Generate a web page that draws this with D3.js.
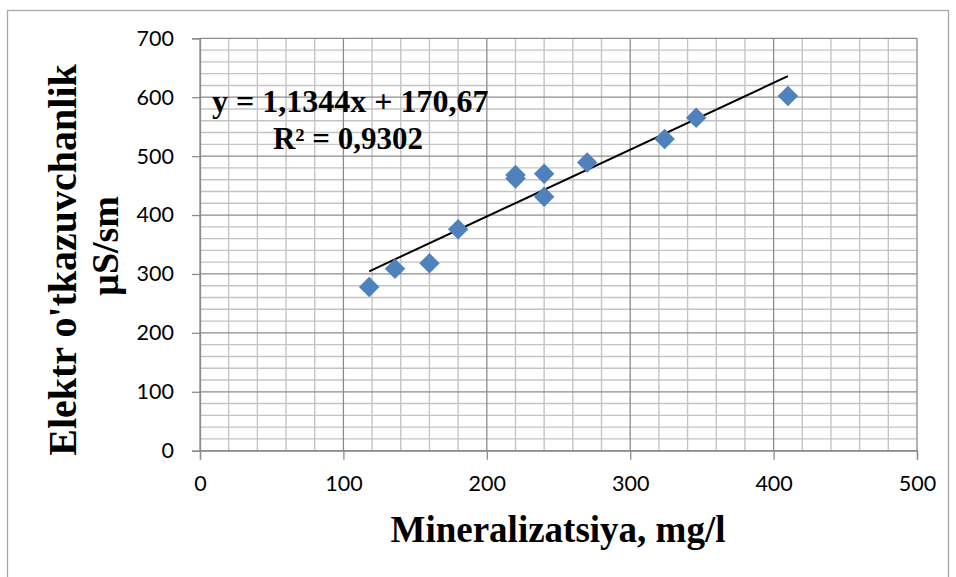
<!DOCTYPE html>
<html>
<head>
<meta charset="utf-8">
<script src="https://cdn.jsdelivr.net/npm/d3@7"></script>
<style>
  html, body { margin: 0; padding: 0; background: #fff; }
  svg { display: block; }
</style>
</head>
<body>
<svg id="chart" width="956" height="577"></svg>
<script>
// ---- data ----
const mineralization = [118, 136, 160, 180, 220, 220, 240, 240, 270, 324, 346, 410];
const conductivity   = [278, 309, 318, 376, 462, 468, 470, 431, 489, 529, 565, 602];
const xTicks = [0, 100, 200, 300, 400, 500];
const yTicks = [0, 100, 200, 300, 400, 500, 600, 700];
const trendSlope = 1.1344;
const trendIntercept = 170.67;
const equationText = "y = 1,1344x + 170,67";
const r2Text = "R² = 0,9302";
const xTitle = "Mineralizatsiya, mg/l";
const yTitleLines = ["Elektr o'tkazuvchanlik", "µS/sm"];

(function () {
// ---- layout ----
const svg = d3.select("#chart");
const pl = 200, pr = 917, pt = 38.3, pb = 450.7;
const x = d3.scaleLinear().domain([0, 500]).range([pl, pr]);
const y = d3.scaleLinear().domain([0, 700]).range([pb, pt]);

// outer border
svg.append("rect").attr("x", 7.5).attr("y", 10.5).attr("width", 941).attr("height", 600)
  .attr("fill", "none").attr("stroke", "#a6a6a6").attr("stroke-width", 1.3);

// minor gridlines
const minor = d3.range(0, 501, 20).filter(v => v % 100 !== 0);
const minorY = d3.range(0, 701, 20).filter(v => v % 100 !== 0);
const g = svg.append("g");
g.selectAll(".mx").data(minor).join("line")
  .attr("x1", d => x(d)).attr("x2", d => x(d)).attr("y1", pt).attr("y2", pb)
  .attr("stroke", "#c4c4c4").attr("stroke-width", 1.4);
g.selectAll(".my").data(minorY).join("line")
  .attr("y1", d => y(d)).attr("y2", d => y(d)).attr("x1", pl).attr("x2", pr)
  .attr("stroke", "#c4c4c4").attr("stroke-width", 1.4);
// major gridlines
const g2 = svg.append("g");
g2.selectAll(".Mx").data(xTicks).join("line")
  .attr("x1", d => x(d)).attr("x2", d => x(d)).attr("y1", pt).attr("y2", pb)
  .attr("stroke", "#8c8c8c").attr("stroke-width", 1.3);
const g3 = svg.append("g");
g3.selectAll(".My").data(yTicks).join("line")
  .attr("y1", d => y(d)).attr("y2", d => y(d)).attr("x1", pl).attr("x2", pr)
  .attr("stroke", "#8c8c8c").attr("stroke-width", 1.3);

// axes
const xAxis = d3.axisBottom(x).tickValues(xTicks).tickSize(9).tickPadding(16).tickFormat(d3.format("d"));
const yAxis = d3.axisLeft(y).tickValues(yTicks).tickSize(8).tickPadding(18).tickFormat(d3.format("d"));
const gx = svg.append("g").attr("transform", `translate(0,${pb})`).call(xAxis);
const gy = svg.append("g").attr("transform", `translate(${pl},0)`).call(yAxis);
[gx, gy].forEach(a => {
  a.select(".domain").attr("stroke", "#8c8c8c").attr("stroke-width", 1.3);
  a.selectAll(".tick line").attr("stroke", "#8c8c8c").attr("stroke-width", 1.3);
  a.selectAll(".tick text").attr("fill", "#000")
    .style("font-family", "Lato, 'Open Sans', sans-serif").style("font-size", "21.5px");
});

// trendline
const x0 = d3.min(mineralization), x1 = d3.max(mineralization);
svg.append("line")
  .attr("x1", x(x0)).attr("y1", y(trendSlope * x0 + trendIntercept))
  .attr("x2", x(x1)).attr("y2", y(trendSlope * x1 + trendIntercept))
  .attr("stroke", "#000").attr("stroke-width", 2);

// markers
const pts = mineralization.map((v, i) => [v, conductivity[i]]);
const diamond = d3.symbol().type(d3.symbolSquare).size(210);
svg.append("g").selectAll("path").data(pts).join("path")
  .attr("d", diamond)
  .attr("transform", d => `translate(${x(d[0])},${y(d[1])}) rotate(45)`)
  .attr("fill", "#4f81bd");

// equation
const serif = "'Liberation Serif', 'Times New Roman', serif";
svg.append("text").attr("x", 212).attr("y", 112)
  .style("font-family", serif).style("font-weight", "bold").style("font-size", "32px")
  .text(equationText);
svg.append("text").attr("x", 348).attr("y", 149).attr("text-anchor", "middle")
  .style("font-family", serif).style("font-weight", "bold").style("font-size", "31px")
  .text(r2Text);

// axis titles
svg.append("text").attr("x", 558).attr("y", 542).attr("text-anchor", "middle")
  .style("font-family", serif).style("font-weight", "bold").style("font-size", "37px")
  .text(xTitle);
svg.append("text").attr("transform", "translate(76,260) rotate(-90)").attr("text-anchor", "middle")
  .style("font-family", serif).style("font-weight", "bold").style("font-size", "40px")
  .text(yTitleLines[0]);
svg.append("text").attr("transform", "translate(118,246) rotate(-90)").attr("text-anchor", "middle")
  .style("font-family", serif).style("font-weight", "bold").style("font-size", "38px")
  .text(yTitleLines[1]);
})();
</script>
</body>
</html>
